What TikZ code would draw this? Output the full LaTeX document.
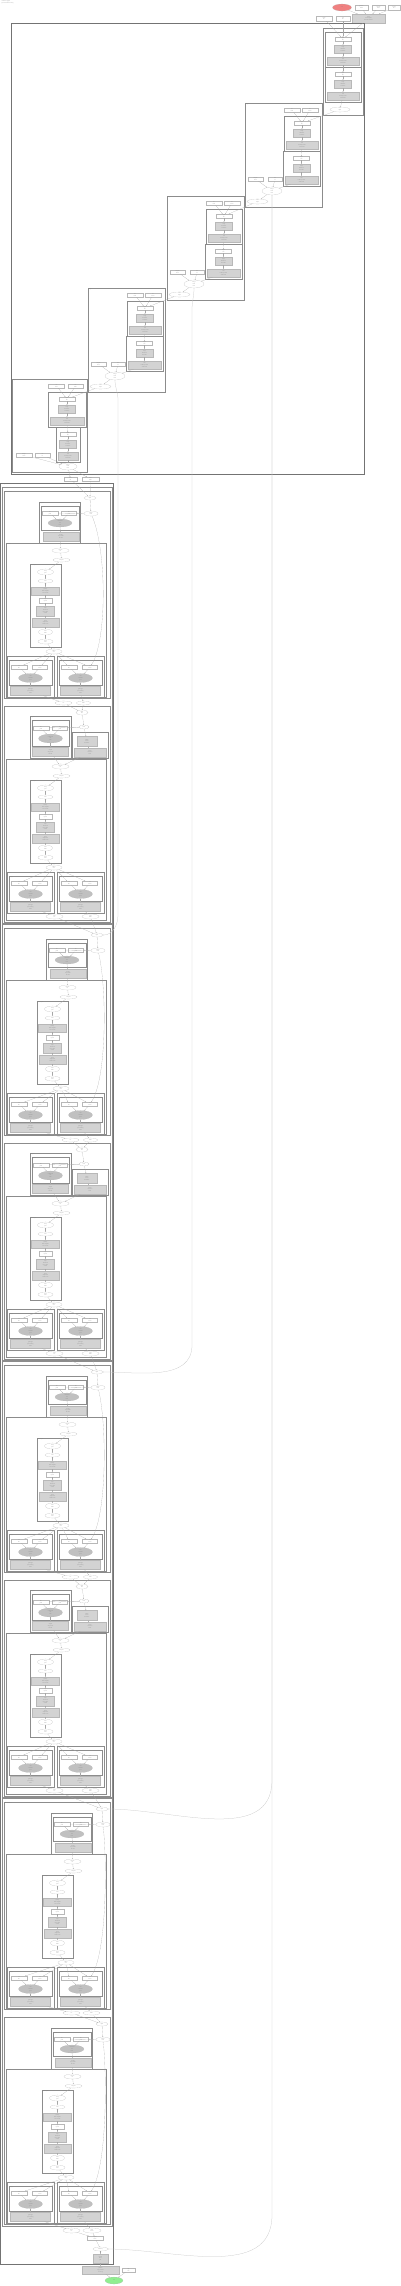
\documentclass[tikz,border=0pt]{standalone}
\usepackage{fontspec}
\setmainfont{Liberation Serif}
\usetikzlibrary{shapes.geometric,arrows.meta}
\definecolor{boxgrey}{HTML}{D3D3D3}
\definecolor{ellgrey}{HTML}{C0C0C0}
\definecolor{startred}{HTML}{F08080}
\definecolor{endgreen}{HTML}{90EE90}
\newcommand\tinyfnt{\fontsize{1.3}{1.7}\selectfont}
\tikzset{
  nd/.style={draw=black!28, line width=0.12pt, inner sep=0.2pt, font=\tinyfnt, text=black!50, align=center},
  wb/.style={nd, fill=white},
  gb/.style={nd, fill=boxgrey},
  we/.style={nd, ellipse, inner sep=0pt, fill=white},
  ge/.style={nd, ellipse, inner sep=0pt, fill=ellgrey},
  clu/.style={draw=black!45, line width=0.3pt},
  big/.style={draw=black!55, line width=0.5pt},
  lab/.style={font=\tinyfnt, text=black!50, anchor=north west, inner sep=0.5pt, align=left},
  ed/.style={draw=black!35, line width=0.12pt, -{Stealth[length=0.9pt,width=0.7pt]}},
  long/.style={draw=black!22, line width=0.25pt, -{Stealth[length=0.9pt,width=0.7pt]}},
}
% node: style, name, centre, width, height, text
\newcommand\mk[6]{\node[#1,minimum width=#4,minimum height=#5] (#2) at (#3) {#6};}
% cluster: corner, corner, label name, label
\newcommand\clus[4]{\draw[clu] (#1) rectangle (#2); \node[lab] (#3) at (#1) {#4};}
% three steps in a box
\newcommand\gblk[4]{%
  \clus{#2,#3}{#2+#4,#3+35}{#1lab}{job}
  \mk{wb}{#1w}{#2+#4/2,#3+7}{16}{4}{input\\file}
  \mk{gb}{#1g}{#2+#4/2,#3+17}{17}{8}{align\\threads 4\\mem 8G}
  \mk{gb}{#1x}{#2+#4/2,#3+29}{#4-4}{8}{sort\\reads by name\\write bam}
  \draw[ed] (#1w) -- (#1g);
  \draw[ed] (#1g) -- (#1x);
}
% one stair of the top cluster
\newcommand\lvl[3]{%
  \clus{#2,#3}{#2+77,#3+104}{#1lab}{stage}
  \mk{wb}{#1i}{#2+47,#3+7}{16}{4}{ref\\fasta}
  \mk{wb}{#1j}{#2+65,#3+7}{16}{4}{ref\\index}
  \gblk{#1a}{#2+39}{#3+13}{36}
  \gblk{#1b}{#2+38}{#3+48}{37}
  \mk{wb}{#1p}{#2+10.5,#3+76}{15}{4}{sample\\name}
  \mk{wb}{#1q}{#2+30,#3+76}{14}{4}{run\\id}
  \mk{we}{#1e}{#2+27,#3+88}{20}{8}{merge\\bam\\files}
  \mk{we}{#1s}{#2+12.5,#3+98.5}{21}{5}{next\\input}
  \draw[ed] (#1i) -- (#1aw);
  \draw[ed] (#1j) -- (#1aw);
  \draw[ed] (#1ax) -- (#1bw);
  \draw[ed] (#1bx) -- (#1e);
  \draw[ed] (#1p) -- (#1e);
  \draw[ed] (#1q) -- (#1e);
  \draw[ed] (#1e) -- (#1s);
}
% chain of steps per sample
\newcommand\chain[3]{%
  \clus{30+#3,#2}{61+#3,#2+83}{#1lab}{per sample}
  \mk{we}{#11}{45.5+#3,#2+8}{16}{6}{fastq\\pair}
  \mk{we}{#12}{45.5+#3,#2+17}{15}{4}{trim}
  \mk{gb}{#13}{45.5+#3,#2+27}{28}{8}{quality\\trim adapters\\min len 30}
  \mk{wb}{#14}{45.5+#3,#2+36.5}{13}{5}{qc\\report}
  \mk{gb}{#15}{45.5+#3,#2+47}{18}{10}{map\\threads 8\\mem 16G\\sorted}
  \mk{gb}{#16}{45.5+#3,#2+58.5}{27}{9}{mark\\duplicates\\metrics file}
  \mk{we}{#17}{45.5+#3,#2+68}{14}{6}{bam\\index}
  \mk{we}{#18}{45.5+#3,#2+77.5}{15}{5}{final\\bam}
  \foreach \i/\j in {1/2,2/3,3/4,4/5,5/6,6/7,7/8} {\draw[ed] (#1\i) -- (#1\j);}
}
% lower box: two inputs, a task, its result
\newcommand\bsub[3]{%
  \clus{#2,#3}{#2+47,#3+41}{#1lab}{collect}
  \clus{#2+2,#3+4}{#2+45,#3+29}{#1ilab}{merge}
  \mk{wb}{#1u}{#2+12,#3+11}{16}{4}{vcf\\file}
  \mk{wb}{#1v}{#2+33,#3+11}{15}{4}{vcf\\index}
  \mk{ge}{#1g}{#2+23.5,#3+22}{24}{9}{call\\variants\\gvcf}
  \mk{gb}{#1h}{#2+23.5,#3+35}{40}{9}{genotype\\joint calling\\filter}
  \draw[ed] (#1u) -- (#1g);
  \draw[ed] (#1v) -- (#1g);
  \draw[ed] (#1g) -- (#1h);
}
% middle part of a section
\newcommand\midc[4]{%
  \clus{6,#2}{106,#2+#4}{#1lab}{process}
  \mk{we}{#1a}{60.5+#3,#2+7.5}{17}{5}{sample\\id}
  \mk{we}{#1b}{61.5+#3,#2+17}{17}{4}{samples}
  \chain{#1k}{#2+21}{#3}
  \mk{we}{#1d}{54+#3,#2+108.5}{16}{5}{gather\\out}
  \bsub{#1p}{7}{#2+113}
  \bsub{#1q}{57}{#2+113}
  \draw[ed] (#1a) -- (#1b);
  \draw[ed] (#1b) -- (#1k1);
  \draw[ed] (#1k8) -- (#1d);
  \foreach \s in {p,q} {\draw[ed] (#1d) -- (#1\s u); \draw[ed] (#1d) -- (#1\s v);}
}
% section with one upper box
\newcommand\psec[3]{%
  \clus{4,#2}{110,#2+207}{#1lab}{subworkflow}
  \mk{we}{#1a}{90+#3,#2+7}{12}{4}{input}
  \mk{we}{#1b}{91+#3,#2+22.5}{14}{5}{scatter\\item}
  \clus{39+#3,#2+11}{80+#3,#2+52}{#1tlab}{prepare}
  \clus{41+#3,#2+15}{79+#3,#2+39}{#1ilab}{inputs}
  \mk{wb}{#1u}{50+#3,#2+22}{16}{4}{file\\path}
  \mk{wb}{#1v}{69+#3,#2+22}{15}{4}{file\\path}
  \mk{ge}{#1g}{60+#3,#2+32}{24}{8}{command\\run\\task}
  \mk{gb}{#1h}{61+#3,#2+45.5}{36}{9}{output\\step result\\file list}
  \midc{#1m}{#2+52}{#3}{154}
  \draw[ed] (#1a) -- (#1b);
  \draw[ed] (#1b) -- (#1u);
  \draw[ed] (#1b) -- (#1v);
  \draw[ed] (#1u) -- (#1g);
  \draw[ed] (#1v) -- (#1g);
  \draw[ed] (#1g) -- (#1h);
  \draw[ed] (#1h) -- (#1ma);
  \draw[ed] (#1b) .. controls (107,#2+60) and (107,#2+150) .. (#1mqv);
}
% section with two upper boxes
\newcommand\tsec[3]{%
  \clus{4,#2}{110,#2+216}{#1lab}{subworkflow}
  \mk{we}{#1a}{82+#3,#2+6.5}{12}{5}{input\\list}
  \mk{we}{#1b}{84+#3,#2+21}{10}{4}{item}
  \clus{30,#2+10}{71,#2+52}{#1tlab}{prepare}
  \clus{32,#2+14}{69,#2+40}{#1ilab}{inputs}
  \mk{wb}{#1u}{41,#2+22}{16}{4}{file\\path}
  \mk{wb}{#1v}{60,#2+22}{15}{4}{file\\path}
  \mk{ge}{#1g}{50.5,#2+32.5}{24}{9}{command\\run\\task}
  \mk{gb}{#1h}{50.5,#2+46}{36}{9}{output\\step result\\file list}
  \clus{72,#2+26}{108,#2+52}{#1rlab}{index}
  \mk{gb}{#1c}{87,#2+35.5}{20}{10}{build\\index\\threads 2}
  \mk{gb}{#1e}{90,#2+46.5}{32}{9}{index\\reference\\done}
  \midc{#1m}{#2+53}{0}{161}
  \mk{we}{#1x}{54.5,#2+210.5}{17}{5}{joint\\vcf}
  \mk{we}{#1y}{90.5,#2+210.5}{17}{5}{joint\\index}
  \draw[ed] (#1a) -- (#1b);
  \draw[ed] (#1b) -- (#1u);
  \draw[ed] (#1b) -- (#1v);
  \draw[ed] (#1u) -- (#1g);
  \draw[ed] (#1v) -- (#1g);
  \draw[ed] (#1g) -- (#1h);
  \draw[ed] (#1b) -- (#1c);
  \draw[ed] (#1c) -- (#1e);
  \draw[ed] (#1h) -- (#1ma);
  \draw[ed] (#1e) -- (#1ma);
  \draw[ed] (#1mph) -- (#1x);
  \draw[ed] (#1mqh) -- (#1y);
}
% pair of sections
\newcommand\pairPT[3]{%
  \draw[clu] (2,#2) rectangle (112,#2+436);
  \psec{#1P}{#2+4}{#3}
  \mk{we}{#1r}{63.5+#3,#2+216}{17}{4}{vcf}
  \mk{we}{#1s}{83.5+#3,#2+216}{14}{4}{index}
  \tsec{#1T}{#2+219}{0}
  \draw[ed] (#1Pmph) -- (#1r);
  \draw[ed] (#1Pmqh) -- (#1s);
  \draw[ed] (#1r) -- (#1Ta);
  \draw[ed] (#1s) -- (#1Ta);
}
\begin{document}
\begin{tikzpicture}[x=1pt,y=-1pt]
  \useasboundingbox (0,0) rectangle (400,2286);
  \node[lab] (title) at (1,0.3) {workflow graph\\generated from run log};
  % start and inputs
  \node[nd, ellipse, inner sep=0pt, fill=startred, minimum width=19, minimum height=7] (start) at (342,7.5) {start};
  \mk{wb}{t1}{361.5,7.5}{13}{5}{genome\\build}
  \mk{wb}{t2}{378.5,7.5}{13}{5}{sample\\sheet}
  \mk{wb}{t3}{394,7.5}{12}{5}{config\\file}
  \mk{wb}{t4}{324,18.5}{16}{5}{reads\\dir}
  \mk{wb}{t5}{343,18.5}{14}{5}{out\\dir}
  \mk{gb}{t6}{368.5,18.5}{33}{9}{setup\\check inputs\\make directories}
  \draw[ed] (start) -- (t6);
  \draw[ed] (t1) -- (t6);
  \draw[ed] (t2) -- (t6);
  \draw[ed] (t3) -- (t6);
  % upper cluster, as stairs
  \draw[big] (11,23) rectangle (364,474);
  \node[lab] (Alab) at (11,23) {alignment};
  \clus{323,28}{363,115}{L1lab}{stage}
  \gblk{L1a}{325}{32}{36}
  \gblk{L1b}{325}{67}{36}
  \mk{we}{L1s}{340,109.5}{20}{5}{next\\input}
  \draw[ed] (t4) -- (L1aw);
  \draw[ed] (t5) -- (L1aw);
  \draw[ed] (t6) -- (L1aw);
  \draw[ed] (L1ax) -- (L1bw);
  \draw[ed] (L1bx) -- (L1s);
  \lvl{L2}{245}{103}
  \lvl{L3}{167}{196}
  \lvl{L4}{88}{288}
  \draw[ed] (L1s) -- (L2aw);
  \draw[ed] (L2s) -- (L3aw);
  \draw[ed] (L3s) -- (L4aw);
  % last stair
  \clus{12,379}{87,472}{L5lab}{stage}
  \mk{wb}{L5i}{56.5,386}{16}{4}{ref\\fasta}
  \mk{wb}{L5j}{75.5,386}{15}{4}{ref\\index}
  \gblk{L5a}{48}{392}{38}
  \gblk{L5b}{56}{427}{24}
  \mk{wb}{L5p}{24,455}{16}{4}{sample\\name}
  \mk{wb}{L5q}{42.5,455}{15}{4}{run\\id}
  \mk{we}{L5e}{68,466.5}{18}{7}{merge\\bam\\files}
  \draw[ed] (L4s) -- (L5aw);
  \draw[ed] (L5i) -- (L5aw);
  \draw[ed] (L5j) -- (L5aw);
  \draw[ed] (L5ax) -- (L5bw);
  \draw[ed] (L5bx) -- (L5e);
  \draw[ed] (L5p) -- (L5e);
  \draw[ed] (L5q) -- (L5e);
  \mk{wb}{m1}{70.5,479}{13}{4}{bam\\list}
  \mk{wb}{m2}{90.5,479}{17}{4}{bam\\index}
  \draw[ed] (L5e) -- (m1);
  \draw[ed] (L5e) -- (m2);
  % lower cluster
  \draw[big] (0.6,483) rectangle (113.5,2264);
  \node[lab] (Blab) at (0.6,483) {calling};
  \pairPT{pA}{487}{0}
  \pairPT{pB}{924}{7}
  \pairPT{pC}{1361}{7}
  \draw[ed] (m1) -- (pAPa);
  \draw[ed] (m2) -- (pAPa);
  \draw[ed] (pATx) -- (pBPa);
  \draw[ed] (pATy) -- (pBPa);
  \draw[ed] (pBTx) -- (pCPa);
  \draw[ed] (pBTy) -- (pCPa);
  \draw[clu] (2,1798) rectangle (112,2226);
  \psec{pDP}{1802}{12}
  \mk{we}{pDr}{71.5,2013}{17}{4}{vcf}
  \mk{we}{pDs}{91.5,2013}{17}{4}{index}
  \psec{pDQ}{2017}{12}
  \draw[ed] (pCTx) -- (pDPa);
  \draw[ed] (pCTy) -- (pDPa);
  \draw[ed] (pDPmph) -- (pDr);
  \draw[ed] (pDPmqh) -- (pDs);
  \draw[ed] (pDr) -- (pDQa);
  \draw[ed] (pDs) -- (pDQa);
  % end
  \mk{we}{f1}{71.5,2230.5}{17}{5}{final\\vcf}
  \mk{we}{f2}{92,2230.5}{18}{5}{final\\index}
  \mk{wb}{fw}{95,2238}{16}{4}{report\\name}
  \mk{we}{fe}{100.5,2249}{15}{4}{summary}
  \mk{gb}{fg}{100.5,2258.5}{15}{9}{report\\html\\pdf}
  \mk{gb}{fx}{100.5,2270}{37}{8}{publish\\copy results\\clean up}
  \mk{wb}{fs}{128.5,2270}{13}{4}{log\\file}
  \node[nd, ellipse, inner sep=0pt, fill=endgreen, minimum width=18, minimum height=7] (stop) at (114,2280.5) {end};
  \draw[ed] (pDQmph) -- (f1);
  \draw[ed] (pDQmqh) -- (f2);
  \draw[ed] (f1) -- (fw);
  \draw[ed] (f2) -- (fw);
  \draw[ed] (fw) -- (fe);
  \draw[ed] (fe) -- (fg);
  \draw[ed] (fg) -- (fx);
  \draw[ed] (fx) -- (stop);
  \draw[ed] (fs) -- (stop);
  % long edges from the stairs
  \draw[long] (L4e) to[out=-90,in=90] (118,400) -- (118,915) to[out=-90,in=0] (pBPa);
  \draw[long] (L3e) to[out=-90,in=90] (192,310) -- (192,1345) to[out=-90,in=0] (pCPa);
  \draw[long] (L2e) to[out=-90,in=90] (272,215) -- (272,1780) to[out=-90,in=0] (pDPa);
  \draw[long] (L2e) to[out=-90,in=90] (272,215) -- (272,2215) to[out=-90,in=0] (fe);
\end{tikzpicture}
\end{document}
